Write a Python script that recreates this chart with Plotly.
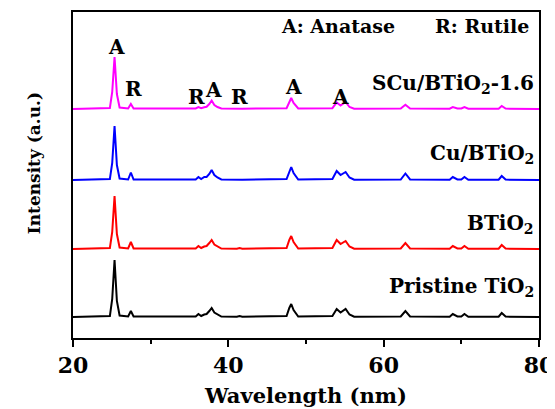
import plotly.graph_objects as go

# ---- data ----
two_theta = [20, 24.75, 25.05, 25.35, 25.65, 26.0, 27.1, 27.45, 27.8, 35.8, 36.15, 36.5, 36.9, 37.2,
             37.55, 37.85, 38.2, 38.6, 39.1, 41.1, 41.45, 41.8, 47.5, 47.85, 48.1, 48.4, 49.0,
             53.4, 53.95, 54.45, 55.1, 55.6, 56.2, 62.2, 62.8, 63.4, 68.5, 68.9, 69.5, 70.0,
             70.4, 70.9, 74.8, 75.2, 75.7, 80]

pristine = [0, 1, 18, 57, 16, 1.5, 0.5, 6, 0.5, 0.5, 3, 1, 2.5, 3, 6, 9, 4.5, 2.5, 0.5, 0.3, 1, 0.3,
            1, 9, 13, 7, 0.5, 1, 8, 4.5, 8, 2.5, 0.3, 0.5, 6, 0.6, 0.3, 3, 0.6, 0.5, 3, 0.3, 0.3,
            4, 0.4, 0]
btio2 = [0, 1, 17, 53, 15, 1.5, 0.5, 7, 0.5, 0.5, 3, 1, 2.5, 3, 6, 9, 4.5, 2.5, 0.5, 0.3, 1, 0.3,
         1, 9, 13, 7, 0.5, 1, 9, 5, 8, 2.5, 0.3, 0.5, 6, 0.6, 0.3, 3, 0.6, 0.5, 3, 0.3, 0.3, 4,
         0.4, 0]
cu_btio2 = [0, 1, 17, 54, 15, 1.5, 0.5, 7.5, 0.5, 0.5, 3, 1, 3, 3, 6, 10, 5, 2.5, 0.5, 0.3, 1, 0.3,
            1, 9, 13, 7, 0.5, 1, 9, 5, 8, 2.5, 0.3, 0.5, 6.5, 0.6, 0.3, 3, 0.6, 0.5, 3, 0.3, 0.3,
            4, 0.4, 0]
scu_btio2 = [0, 1, 17, 52, 15, 1.5, 0.5, 5, 0.5, 0.5, 2, 0.8, 1.8, 2.2, 5, 8.5, 4, 2, 0.5, 0.3, 1,
             0.3, 0.8, 7, 11, 6, 0.5, 0.8, 6.5, 3.5, 7, 2, 0.3, 0.5, 4.3, 0.5, 0.3, 2, 0.6, 0.5, 2,
             0.3, 0.3, 3, 0.4, 0]

series_names = ["Pristine TiO<sub>2</sub>", "BTiO<sub>2</sub>", "Cu/BTiO<sub>2</sub>",
                "SCu/BTiO<sub>2</sub>-1.6"]
series_values = [pristine, btio2, cu_btio2, scu_btio2]
series_offsets = [21, 89, 158, 229]
series_colors = ["#000000", "#FF0000", "#0000FF", "#FF00FF"]
label_y = [51, 114, 184, 254]

peak_labels = ["A", "R", "R", "A", "R", "A", "A"]
peak_label_x = [25.55, 27.85, 35.93, 38.15, 41.5, 48.4, 54.47]
peak_label_y = [291, 249, 241, 248, 241, 251, 241]

FONT = "DejaVu Serif"

fig = go.Figure()
for name, vals, off, col in zip(series_names, series_values, series_offsets, series_colors):
    fig.add_trace(go.Scatter(x=two_theta, y=[v + off for v in vals], mode="lines",
                             line=dict(color=col, width=2), name=name, showlegend=False))

annotations = []
for name, ly in zip(series_names, label_y):
    annotations.append(dict(x=79.6, y=ly, xref="x", yref="y", text="<b>" + name + "</b>",
                            showarrow=False, xanchor="right", yanchor="middle",
                            font=dict(family=FONT, size=20, color="black")))
for t, px, py in zip(peak_labels, peak_label_x, peak_label_y):
    annotations.append(dict(x=px, y=py, xref="x", yref="y", text="<b>" + t + "</b>",
                            showarrow=False, xanchor="center", yanchor="middle",
                            font=dict(family=FONT, size=20, color="black")))
annotations.append(dict(x=54.1, y=312, xref="x", yref="y", text="<b>A: Anatase</b>",
                        showarrow=False, xanchor="center", yanchor="middle",
                        font=dict(family=FONT, size=19, color="black")))
annotations.append(dict(x=79.0, y=312, xref="x", yref="y", text="<b>R: Rutile</b>",
                        showarrow=False, xanchor="right", yanchor="middle",
                        font=dict(family=FONT, size=19, color="black")))
annotations.append(dict(x=-0.083, y=0.537, xref="paper", yref="paper",
                        text="<b>Intensity (a.u.)</b>", textangle=-90, showarrow=False,
                        xanchor="center", yanchor="middle",
                        font=dict(family=FONT, size=17, color="black")))

fig.update_layout(
    width=547, height=401,
    margin=dict(l=65, r=16, t=4, b=71),
    paper_bgcolor="white", plot_bgcolor="white",
    annotations=annotations,
    xaxis=dict(range=[20, 80], dtick=20, tick0=20, ticks="outside", ticklen=7, tickwidth=1.5,
               tickcolor="black", showline=True, linewidth=1.5, linecolor="black", mirror=True,
               showgrid=False, zeroline=False, automargin=False,
               minor=dict(dtick=10, ticks="outside", ticklen=4, tickwidth=1.5, tickcolor="black"),
               tickfont=dict(family=FONT, size=22, color="black"),
               tickprefix="<b>", ticksuffix="</b>",
               title=dict(text="<b>Wavelength (nm)</b>", standoff=11,
                          font=dict(family=FONT, size=21, color="black"))),
    yaxis=dict(range=[0, 326], showticklabels=False, ticks="", showline=True, linewidth=1.5,
               linecolor="black", mirror=True, showgrid=False, zeroline=False, automargin=False),
)

fig.write_html("out.html")
